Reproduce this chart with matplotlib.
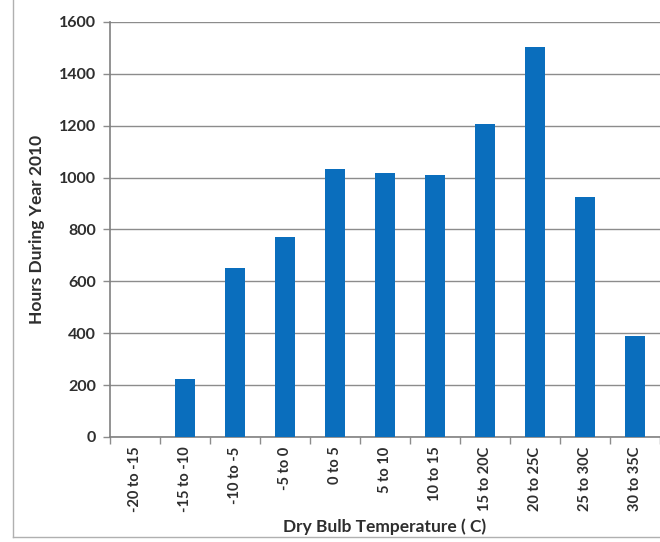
import matplotlib.pyplot as plt
from matplotlib.lines import Line2D

# Hours per dry bulb temperature bin, year 2010
bins = ["-20 to -15", "-15 to -10", "-10 to -5", "-5 to 0", "0 to 5", "5 to 10",
        "10 to 15", "15 to 20C", "20 to 25C", "25 to 30C", "30 to 35C"]
hours = [0, 225, 650, 770, 1035, 1016, 1010, 1206, 1505, 926, 391]
y_ticks = [0, 200, 400, 600, 800, 1000, 1200, 1400, 1600]

plt.rcParams['font.family'] = ['Lato', 'DejaVu Sans']

fig = plt.figure(figsize=(6.6, 5.42), dpi=100)
ax = fig.add_axes([110 / 660, 1 - 437 / 542, 550 / 660, 415 / 542])

bar_color = '#0a6ebd'
text_color = '#2e2e2e'
grid_color = '#8c8c8c'

x = range(len(bins))
ax.bar(x, hours, width=0.4, color=bar_color, zorder=3)

ax.set_xlim(-0.5, len(bins) - 0.5)
ax.set_ylim(0, 1600)
ax.set_yticks(y_ticks)
ax.set_yticklabels([str(v) for v in y_ticks], fontsize=11.5, fontweight='bold', color=text_color)
ax.yaxis.grid(True, color=grid_color, linewidth=1.0, zorder=0)

ax.set_xticks(list(x))
ax.set_xticklabels(bins, rotation=90, fontsize=10.5, fontweight='bold', color=text_color)
ax.tick_params(axis='x', length=0, pad=7)
ax.set_xticks([i + 0.5 for i in range(-1, len(bins))], minor=True)
ax.tick_params(axis='x', which='minor', length=5, color=grid_color, width=1)
ax.tick_params(axis='y', length=5, color=grid_color, width=1, pad=5)

for side in ['top', 'right']:
    ax.spines[side].set_visible(False)
for side in ['left', 'bottom']:
    ax.spines[side].set_color('#808080')
    ax.spines[side].set_linewidth(1.2)

ax.set_ylabel("Hours During Year 2010", fontsize=12.5, fontweight='bold', color=text_color)
ax.yaxis.set_label_coords(-0.118, 0.5)
ax.set_xlabel("Dry Bulb Temperature ( C)", fontsize=12.5, fontweight='bold', color=text_color)
ax.xaxis.set_label_coords(0.5, -0.197)

# outer chart frame (left and bottom edges visible)
fig.add_artist(Line2D([13 / 660, 13 / 660], [1 - 537 / 542, 1.0], transform=fig.transFigure,
                      color='#b0b0b0', linewidth=1))
fig.add_artist(Line2D([13 / 660, 1.0], [1 - 537 / 542, 1 - 537 / 542], transform=fig.transFigure,
                      color='#b0b0b0', linewidth=1))

fig.savefig("out.png", dpi=100)
